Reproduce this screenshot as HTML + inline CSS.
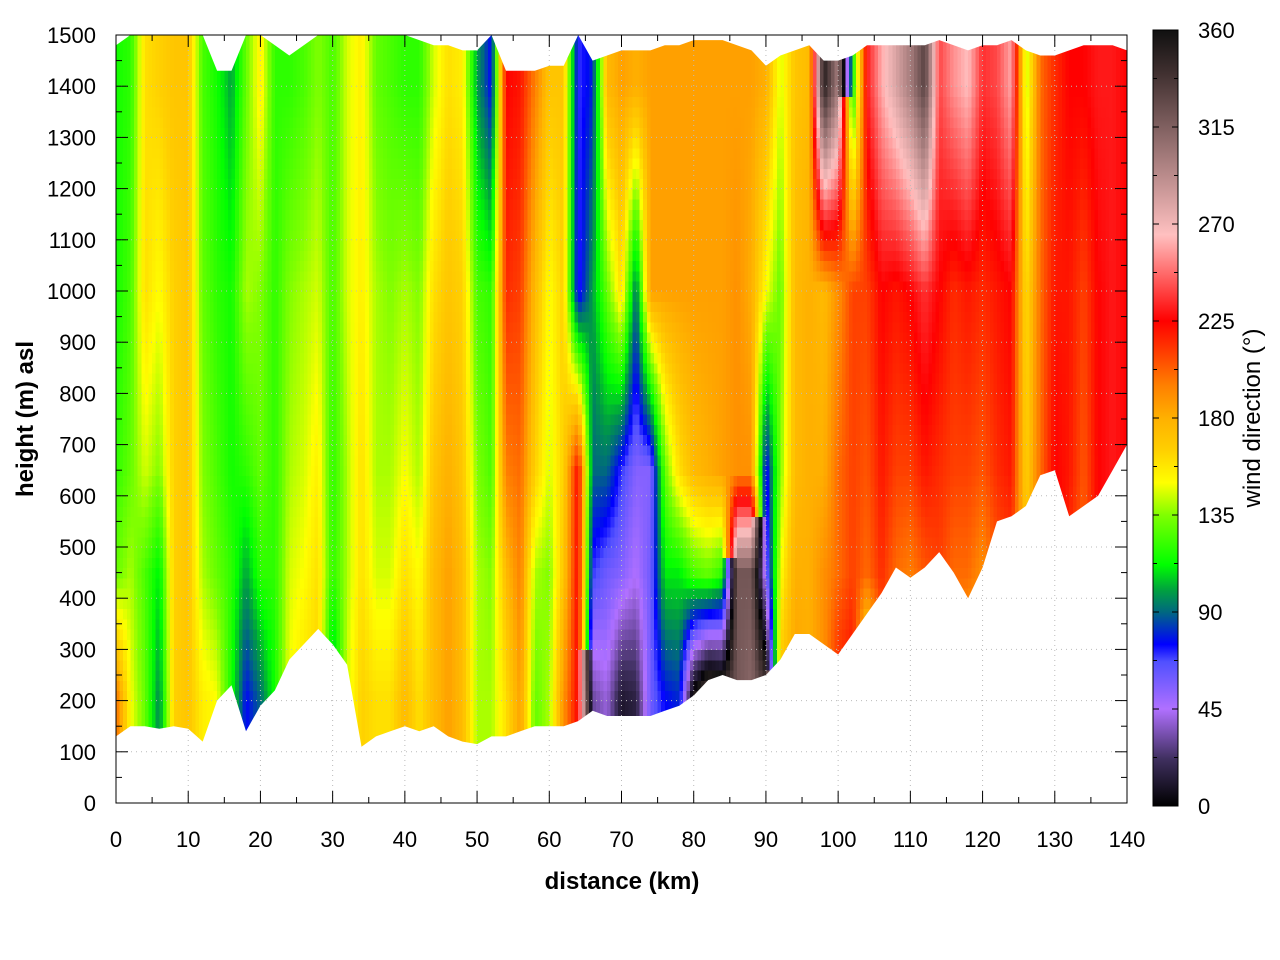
<!DOCTYPE html>
<html><head><meta charset="utf-8"><style>
body{margin:0;background:#fff;}
svg{display:block;font-family:"Liberation Sans",sans-serif;}
</style></head><body>
<svg id="chart" width="1280" height="960" viewBox="0 0 1280 960" xmlns="http://www.w3.org/2000/svg">
<defs>
<clipPath id="plotclip"><rect x="116" y="35" width="1011" height="768"/></clipPath>
<linearGradient id="cbgrad" x1="0" y1="1" x2="0" y2="0"></linearGradient>
</defs>
<g id="cells" clip-path="url(#plotclip)" shape-rendering="crispEdges"></g>
<g id="masks" clip-path="url(#plotclip)"></g>
<g id="grid"></g>
<rect x="116" y="35" width="1011" height="768" fill="none" stroke="#000" stroke-width="1"/>
<g id="axes"></g>
<text x="622" y="889" text-anchor="middle" font-size="24" font-weight="bold">distance (km)</text>
<text transform="translate(33,419) rotate(-90)" text-anchor="middle" font-size="24" font-weight="bold">height (m) asl</text>
<rect x="1153" y="30" width="25" height="776" fill="url(#cbgrad)" stroke="#000" stroke-width="1"/>
<g id="cbaxis"></g>
<text transform="translate(1260,418) rotate(-90)" text-anchor="middle" font-size="24">wind direction (°)</text>
</svg>
<script>
// data: wind direction (deg) at 5 height levels per 2-km column
const distKm = [0,2,4,6,8,10,12,14,16,18,20,22,24,26,28,30,32,34,36,38,40,42,44,46,48,50,52,54,56,58,60,62,64,66,68,70,72,74,76,78,80,82,84,86,88,90,92,94,96,98,100,102,104,106,108,110,112,114,116,118,120,122,124,126,128,130,132,134,136,138,140];
const levelM = [200,450,650,1000,1400];
const dir200 = [200,150,130,95,165,170,155,150,115,75, 90,115,150,160,165,95,145,165,160,160, 175,160,175,185,175,140,140,160,185,130, 140,190,225,30,40,10,15,60,75,80, 350,320,330,320,310,330,175,185,180,190, 220,225,130,200,190,180,190,200,190,170, 180,195,200,150,195,230,210,200,220,225,215];
const dir450 = [130,140,125,110,165,170,140,130,120,100, 120,120,145,150,160,120,140,160,145,145, 160,150,175,185,175,140,135,175,195,140, 135,170,225,70,60,55,45,60,110,110, 125,130,120,320,320,55,150,180,180,190, 200,210,200,215,200,195,205,210,200,200, 190,205,210,170,200,230,215,200,225,230,225];
const dir650 = [120,130,145,135,165,170,135,125,115,120, 130,120,140,145,155,120,140,160,140,140, 150,140,170,180,170,135,125,195,200,165, 145,165,225,90,90,70,55,55,130,160, 175,180,185,190,190,70,135,175,180,180, 200,210,205,220,210,210,220,215,210,210, 205,215,220,165,200,225,220,205,225,230,225];
const dir1000 = [115,125,160,150,165,170,130,120,115,140, 135,120,135,140,145,125,145,155,140,135, 140,135,160,170,165,125,120,215,210,175, 150,165,70,100,130,160,90,185,185,185, 185,185,185,190,180,150,130,175,180,175, 190,210,210,225,220,225,235,225,215,220, 215,220,225,160,200,220,220,210,225,230,225];
const dir1400 = [115,120,160,165,170,170,125,115,100,130, 155,120,120,125,135,125,145,155,130,125, 120,120,145,160,155,100,75,225,220,195, 170,170,70,80,175,185,180,185,185,185, 185,185,185,185,185,180,145,170,175,350, 300,110,230,260,280,300,330,240,255,265, 235,240,260,140,200,215,225,225,230,230,225];
const terrainM = [130,150,150,145,150,145,120,200,230,140, 190,220,280,310,340,310,270,110,130,140, 150,140,150,130,120,115,130,130,140,150, 150,150,160,180,170,170,170,170,180,190, 210,240,250,240,240,250,280,330,330,310, 290,330,370,410,460,440,460,490,450,400, 460,550,560,580,640,650,560,580,600,650,700];
const topM = [1480,1500,1500,1500,1500,1500,1500,1430,1430,1500, 1500,1480,1460,1480,1500,1500,1500,1500,1500,1500, 1500,1490,1480,1480,1470,1470,1500,1430,1430,1430, 1440,1440,1500,1450,1460,1470,1470,1470,1480,1480, 1490,1490,1490,1480,1470,1440,1460,1470,1480,1450, 1450,1460,1480,1480,1480,1480,1480,1490,1480,1470, 1480,1480,1490,1470,1460,1460,1470,1480,1480,1480,1470];
const xTicks = [0,10,20,30,40,50,60,70,80,90,100,110,120,130,140];
const yTicks = [0,100,200,300,400,500,600,700,800,900,1000,1100,1200,1300,1400,1500];
const cbTicks = [0,45,90,135,180,225,270,315,360];

const X = km => 116 + km*(1011/140);
const Y = m => 803 - m*(768/1500);
const CY = d => 806 - d*(776/360);
const stops = [[0,[0,0,0]],[22,[64,48,96]],[45,[176,112,255]],[67,[80,80,255]],[75,[0,0,255]],[90,[0,104,128]],[100,[0,160,64]],[112,[0,255,0]],[135,[128,255,0]],[150,[255,255,0]],[165,[255,208,0]],[180,[255,176,0]],[195,[255,128,0]],[210,[255,64,0]],[225,[255,0,0]],[245,[255,96,96]],[265,[255,192,192]],[290,[192,144,144]],[315,[128,96,96]],[340,[64,48,48]],[360,[16,16,16]]];
function cmap(d){d=((d%360)+360)%360;for(let i=1;i<stops.length;i++){if(d<=stops[i][0]){const a=stops[i-1],b=stops[i],t=(d-a[0])/(b[0]-a[0]);const c=a[1].map((v,j)=>Math.round(v+(b[1][j]-v)*t));return `rgb(${c[0]},${c[1]},${c[2]})`;}}return 'rgb(16,16,16)';}
function circ(a,b,t){let d=b-a;if(d>180)d-=360;if(d<-180)d+=360;return a+d*t;}
const levels=[dir200,dir450,dir650,dir1000,dir1400];
function colDir(i,h){
  if(h<=levelM[0])return levels[0][i];
  for(let k=1;k<levelM.length;k++){if(h<=levelM[k])return circ(levels[k-1][i],levels[k][i],(h-levelM[k-1])/(levelM[k]-levelM[k-1]));}
  return levels[levels.length-1][i];
}
function dirAt(km,h){
  const f=km/2,i=Math.min(Math.floor(f),distKm.length-2),t=f-i;
  return circ(colDir(i,h),colDir(i+1,h),t);
}
function lin(arr,km){const f=km/2,i=Math.min(Math.floor(f),arr.length-2),t=f-i;return arr[i]+(arr[i+1]-arr[i])*t;}
const NS='http://www.w3.org/2000/svg';
function mk(tag,attrs,parent){const e=document.createElementNS(NS,tag);for(const k in attrs)e.setAttribute(k,attrs[k]);parent.appendChild(e);return e;}
const cells=document.getElementById('cells');
const dk=0.5,dh=20;
for(let km=0;km<140;km+=dk){
  const x0=X(km),x1=X(km+dk);
  const bot=lin(terrainM,km+dk/2)-40;
  for(let h=0;h<1500;h+=dh){
    if(h+dh<bot)continue;
    const r=mk('rect',{x:x0.toFixed(1),y:Y(h+dh).toFixed(1),width:(x1-x0+0.8).toFixed(1),height:(Y(h)-Y(h+dh)+0.8).toFixed(1),fill:cmap(dirAt(km+dk/2,h+dh/2))},cells);
    
    
  }
}
const masks=document.getElementById('masks');
let pb=`M${X(0)},${Y(-10)} `+distKm.map((k,i)=>`L${X(k).toFixed(1)},${Y(terrainM[i]).toFixed(1)}`).join(' ')+` L${X(140)},${Y(-10)} Z`;
const p1=mk('path',{d:pb,fill:'#fff'},masks);


let pt=`M${X(0)},${Y(1600)} `+distKm.map((k,i)=>`L${X(k).toFixed(1)},${Y(topM[i]).toFixed(1)}`).join(' ')+` L${X(140)},${Y(1600)} Z`;
const p2=mk('path',{d:pt,fill:'#fff'},masks);


const grid=document.getElementById('grid'),axes=document.getElementById('axes');
xTicks.forEach(v=>{const x=X(v);
  const g=mk('line',{x1:x,y1:35,x2:x,y2:803,stroke:'#bbb','stroke-dasharray':'1,4'},grid);
  
  mk('line',{x1:x,y1:803,x2:x,y2:791,stroke:'#000'},axes);mk('line',{x1:x,y1:35,x2:x,y2:47,stroke:'#000'},axes);
  const t=mk('text',{x:x,y:847,'text-anchor':'middle','font-size':22},axes);t.textContent=v;
  
  if(v<140){const xm=X(v+5);mk('line',{x1:xm,y1:803,x2:xm,y2:797,stroke:'#000'},axes);mk('line',{x1:xm,y1:35,x2:xm,y2:41,stroke:'#000'},axes);}
});
yTicks.forEach(v=>{const y=Y(v);
  const g=mk('line',{x1:116,y1:y,x2:1127,y2:y,stroke:'#bbb','stroke-dasharray':'1,4'},grid);
  
  mk('line',{x1:116,y1:y,x2:128,y2:y,stroke:'#000'},axes);mk('line',{x1:1127,y1:y,x2:1115,y2:y,stroke:'#000'},axes);
  const t=mk('text',{x:96,y:y+8,'text-anchor':'end','font-size':22},axes);t.textContent=v;
  
  if(v<1500){const ym=Y(v+50);mk('line',{x1:116,y1:ym,x2:122,y2:ym,stroke:'#000'},axes);mk('line',{x1:1127,y1:ym,x2:1121,y2:ym,stroke:'#000'},axes);}
});
const grad=document.getElementById('cbgrad');
stops.forEach(s=>{mk('stop',{offset:(s[0]/360).toFixed(4),'stop-color':cmap(s[0]===360?359.9:s[0])},grad);});
const cba=document.getElementById('cbaxis');
cbTicks.forEach(v=>{const y=CY(v);
  mk('line',{x1:1153,y1:y,x2:1159,y2:y,stroke:'#000'},cba);mk('line',{x1:1178,y1:y,x2:1172,y2:y,stroke:'#000'},cba);
  const t=mk('text',{x:1198,y:y+8,'font-size':22},cba);t.textContent=v;
  
  if(v<360){const ym=CY(v+22.5);mk('line',{x1:1153,y1:ym,x2:1157,y2:ym,stroke:'#000'},cba);mk('line',{x1:1178,y1:ym,x2:1174,y2:ym,stroke:'#000'},cba);}
});
</script>
</body></html>
